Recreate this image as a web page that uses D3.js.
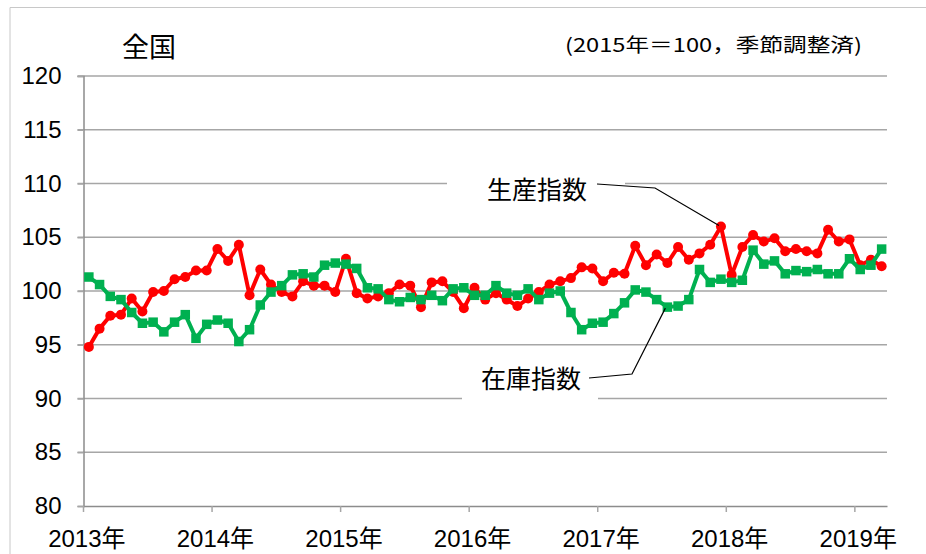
<!DOCTYPE html>
<html>
<head>
<meta charset="utf-8">
<script src="https://cdn.jsdelivr.net/npm/d3@7"></script>
<style>
  html, body { margin: 0; padding: 0; background: #fff; }
  svg { display: block; }
</style>
</head>
<body>
<div id="chart"></div>
<script>
// monthly, Jan 2013 .. Mar 2019
var years = ["2013", "2014", "2015", "2016", "2017", "2018", "2019"];

var production = [
  94.8, 96.5, 97.7, 97.8, 99.3, 98.1, 99.9, 100.0, 101.1, 101.3, 101.9, 101.9,
  103.9, 102.8, 104.3, 99.6, 102.0, 100.6, 99.9, 99.5, 100.9, 100.5, 100.5, 99.9,
  103.0, 99.8, 99.3, 99.5, 99.8, 100.6, 100.5, 98.5, 100.8, 100.9, 99.9, 98.4,
  100.3, 99.2, 99.8, 99.2, 98.6, 99.3, 99.9, 100.6, 100.9, 101.2, 102.2, 102.1,
  100.9, 101.7, 101.6, 104.2, 102.4, 103.4, 102.6, 104.1, 102.9, 103.5, 104.3, 106.0,
  101.5, 104.1, 105.2, 104.6, 104.9, 103.7, 103.9, 103.7, 103.5, 105.7, 104.6, 104.8,
  102.4, 102.9, 102.3
];

var inventory = [
  101.3, 100.6, 99.5, 99.2, 98.0, 97.0, 97.1, 96.2, 97.1, 97.8, 95.6, 96.9,
  97.3, 97.0, 95.3, 96.4, 98.7, 99.9, 100.5, 101.5, 101.6, 101.3, 102.4, 102.6,
  102.5, 102.1, 100.3, 100.2, 99.2, 99.0, 99.4, 99.2, 99.6, 99.1, 100.2, 100.3,
  99.6, 99.6, 100.5, 99.8, 99.6, 100.2, 99.2, 99.8, 100.0, 98.0, 96.4, 97.0,
  97.1, 97.9, 98.9, 100.1, 99.9, 99.2, 98.5, 98.6, 99.2, 102.0, 100.8, 101.1,
  100.8, 101.0, 103.8, 102.5, 102.8, 101.6, 101.9, 101.8, 102.0, 101.6, 101.6, 103.0,
  102.0, 102.4, 103.9
];

var yTicks = [80, 85, 90, 95, 100, 105, 110, 115, 120];

var months = production.map(function(d, i) { return i; });

var svg = d3.select("#chart")
            .append("svg")
            .attr("width", 926)
            .attr("height", 554);

var margin = {top: 76, right: 39, bottom: 48, left: 83.5},
    width = 926 - margin.left - margin.right,
    height = 554 - margin.top - margin.bottom;

var numFont = "'Liberation Sans', Arial, 'Noto Sans CJK JP', sans-serif";
var jpFont = "'Noto Sans CJK JP', 'Noto Sans', sans-serif";

// outer frame
svg.append("path")
   .attr("d", "M10,554 V7.5 H926")
   .attr("fill", "none")
   .attr("stroke", "#c8c8c8")
   .attr("stroke-width", 1);

var x = d3.scaleBand().domain(months).range([0, width]),
    y = d3.scaleLinear().domain([80, 120]).range([height, 0]);

var g = svg.append("g")
    .attr("transform", "translate(" + margin.left + "," + margin.top + ")");

// gridlines
g.selectAll(".grid")
  .data(yTicks.slice(1))
  .enter()
  .append("line")
  .attr("x1", -6)
  .attr("x2", width)
  .attr("y1", function(d) { return y(d); })
  .attr("y2", function(d) { return y(d); })
  .attr("stroke", "#a6a6a6")
  .attr("stroke-width", 1.5);

// y axis
var yAxis = g.append("g")
  .call(d3.axisLeft(y).tickValues(yTicks).tickSize(6).tickPadding(16));
yAxis.select(".domain").attr("stroke", "#8c8c8c").attr("stroke-width", 1.5);
yAxis.selectAll(".tick line").attr("stroke", "#a6a6a6").attr("stroke-width", 1.5);
yAxis.selectAll("text")
  .attr("font-family", numFont)
  .attr("font-size", "24px")
  .attr("fill", "#000");

// x axis
var januaries = months.filter(function(d) { return d % 12 === 0; });
var xAxis = g.append("g")
  .attr("transform", "translate(0," + height + ")")
  .call(d3.axisBottom(x)
          .tickValues(januaries)
          .tickSize(0)
          .tickPadding(24)
          .tickFormat(function(d) { return years[d / 12] + "年"; }));
xAxis.select(".domain").attr("stroke", "#8c8c8c").attr("stroke-width", 1.5);
xAxis.selectAll("text")
  .attr("font-family", numFont)
  .attr("font-size", "24px")
  .attr("dx", -2)
  .attr("fill", "#000");
xAxis.selectAll(".ytick")
  .data(januaries)
  .enter()
  .append("line")
  .attr("x1", function(d) { return x(d); })
  .attr("x2", function(d) { return x(d); })
  .attr("y1", 0)
  .attr("y2", 6)
  .attr("stroke", "#a6a6a6")
  .attr("stroke-width", 1.5);

// white label boxes that break the gridlines
g.append("rect").attr("x", 447 - margin.left).attr("y", 165 - margin.top)
  .attr("width", 178).attr("height", 40).attr("fill", "#fff");
g.append("rect").attr("x", 462 - margin.left).attr("y", 360 - margin.top)
  .attr("width", 136).attr("height", 42).attr("fill", "#fff");

// series
var line = d3.line()
  .x(function(d, i) { return x(i) + x.bandwidth() / 2; })
  .y(function(d) { return y(d); });

g.append("path")
  .datum(production)
  .attr("fill", "none")
  .attr("stroke", "#ff0000")
  .attr("stroke-width", 4)
  .attr("stroke-linejoin", "round")
  .attr("d", line);

g.selectAll(".dot")
  .data(production)
  .enter()
  .append("circle")
  .attr("cx", function(d, i) { return x(i) + x.bandwidth() / 2; })
  .attr("cy", function(d) { return y(d); })
  .attr("r", 5)
  .style("fill", "#ff0000");

g.append("path")
  .datum(inventory)
  .attr("fill", "none")
  .attr("stroke", "#00b050")
  .attr("stroke-width", 4)
  .attr("stroke-linejoin", "round")
  .attr("d", line);

var sq = 9.5;
g.selectAll(".sq")
  .data(inventory)
  .enter()
  .append("rect")
  .attr("x", function(d, i) { return x(i) + x.bandwidth() / 2 - sq / 2; })
  .attr("y", function(d) { return y(d) - sq / 2; })
  .attr("width", sq)
  .attr("height", sq)
  .style("fill", "#00b050");

// leader lines
var pPeak = 59, iLow = 54;
g.append("polyline")
  .attr("points", [
    [597 - margin.left, 184 - margin.top],
    [655 - margin.left, 188 - margin.top],
    [x(pPeak) + x.bandwidth() / 2 - 2, y(production[pPeak]) - 1]
  ].join(" "))
  .attr("fill", "none")
  .attr("stroke", "#000")
  .attr("stroke-width", 1.2);

g.append("polyline")
  .attr("points", [
    [589 - margin.left, 378 - margin.top],
    [632 - margin.left, 374 - margin.top],
    [x(iLow) + x.bandwidth() / 2 - 2, y(inventory[iLow]) + 1]
  ].join(" "))
  .attr("fill", "none")
  .attr("stroke", "#000")
  .attr("stroke-width", 1.2);

// labels
svg.append("text")
  .attr("x", 537).attr("y", 199)
  .attr("text-anchor", "middle")
  .attr("font-family", jpFont)
  .attr("font-size", "25px")
  .text("生産指数");

svg.append("text")
  .attr("x", 531).attr("y", 388)
  .attr("text-anchor", "middle")
  .attr("font-family", jpFont)
  .attr("font-size", "25px")
  .text("在庫指数");

svg.append("text")
  .attr("x", 122).attr("y", 57)
  .attr("font-family", jpFont)
  .attr("font-size", "27px")
  .text("全国");

svg.append("text")
  .attr("x", 565).attr("y", 52)
  .attr("font-family", jpFont)
  .attr("font-size", "19px")
  .attr("textLength", 297)
  .attr("lengthAdjust", "spacingAndGlyphs")
  .text("(2015年＝100，季節調整済)");
</script>
</body>
</html>
